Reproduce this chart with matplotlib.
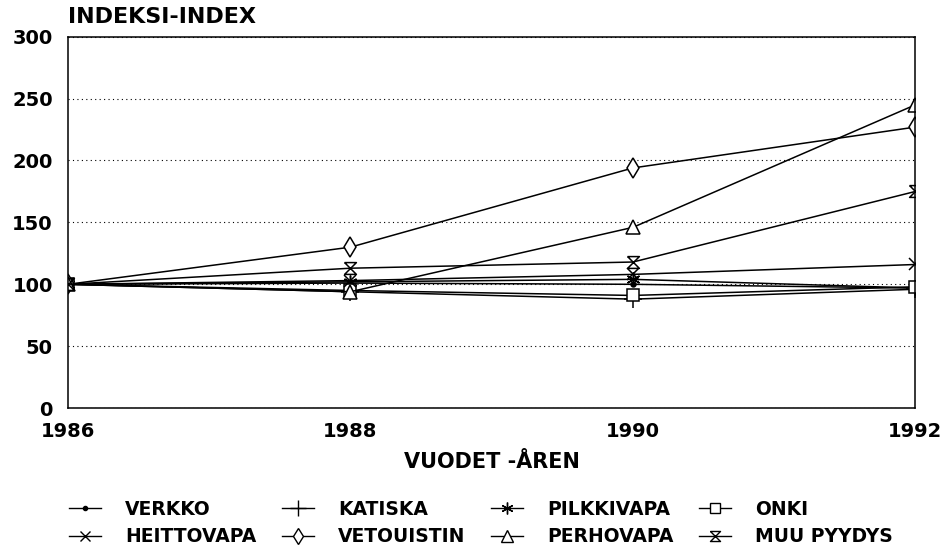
import matplotlib
matplotlib.use("Agg")
import matplotlib.pyplot as plt
from matplotlib.path import Path
from matplotlib.lines import Line2D

years = [1986, 1988, 1990, 1992]
series_names = ["VERKKO", "KATISKA", "PILKKIVAPA", "ONKI",
                "HEITTOVAPA", "VETOUISTIN", "PERHOVAPA", "MUU PYYDYS"]
verkko = [100, 101, 100, 97]
katiska = [100, 94, 88, 96]
pilkkivapa = [100, 102, 104, 97]
onki = [100, 95, 91, 98]
heittovapa = [100, 103, 108, 116]
vetouistin = [100, 130, 194, 227]
perhovapa = [100, 94, 146, 245]
muu_pyydys = [100, 113, 118, 175]
values = [verkko, katiska, pilkkivapa, onki, heittovapa, vetouistin, perhovapa, muu_pyydys]
y_ticks = [0, 50, 100, 150, 200, 250, 300]
x_ticks = [1986, 1988, 1990, 1992]

hourglass = Path([(-1, 1), (1, 1), (-1, -1), (1, -1), (-1, 1)],
                 [Path.MOVETO, Path.LINETO, Path.LINETO, Path.LINETO, Path.LINETO])
asterisk = (6, 2, 0)
markers = ['.', '+', asterisk, 's', 'x', 'd', '^', hourglass]
msizes = [7, 13, 10, 8, 9, 10, 10, 8.5]

plt.rcParams['font.family'] = ['DejaVu Sans']
plt.rcParams['font.weight'] = 'bold'

fig = plt.figure(figsize=(9.5, 5.56), dpi=100)
ax = fig.add_axes([0.0716, 0.266, 0.892, 0.668])

handles = []
for name, vals, m, ms in zip(series_names, values, markers, msizes):
    face = 'black' if m == '.' else ('none' if m in ('+', 'x', asterisk, hourglass) else 'white')
    h, = ax.plot(years, vals, color='black', lw=1.1, marker=m, markersize=ms,
                 markerfacecolor=face, markeredgecolor='black',
                 markeredgewidth=1.1, label=name)
    handles.append(h)

ax.set_xlim(1986, 1992)
ax.set_ylim(0, 300)
ax.set_xticks(x_ticks)
ax.set_yticks(y_ticks)
ax.tick_params(axis='x', labelsize=14, length=0, pad=10)
ax.tick_params(axis='y', labelsize=14, length=0, pad=11)
for lab in ax.get_xticklabels() + ax.get_yticklabels():
    lab.set_fontweight('bold')
ax.yaxis.grid(True, linestyle=(0, (1, 3)), color='black', lw=0.8)
for s in ax.spines.values():
    s.set_linewidth(1.1)
ax.set_xlabel("VUODET -ÅREN", fontsize=15, fontweight='bold', labelpad=8)
fig.text(0.0716, 1 - 23 / 556, "INDEKSI-INDEX", fontsize=16, fontweight='bold',
         ha='left', va='baseline')

order = [0, 4, 1, 5, 2, 6, 3, 7]
leg_handles = []
for i in order:
    h = handles[i]
    leg_handles.append(Line2D([], [], color='black', lw=1.0, marker=h.get_marker(),
                              markersize=h.get_markersize() * 0.85,
                              markerfacecolor=h.get_markerfacecolor(),
                              markeredgecolor='black', label=series_names[i]))
fig.legend(handles=leg_handles, ncol=4, loc='upper left',
           bbox_to_anchor=(69 / 950, 1 - 500 / 556),
           frameon=False, handlelength=1.7, columnspacing=1.35,
           handletextpad=1.3, labelspacing=0.45, borderpad=0, borderaxespad=0,
           prop={'weight': 'bold', 'size': 13.5})

fig.savefig("out.png", dpi=100)
